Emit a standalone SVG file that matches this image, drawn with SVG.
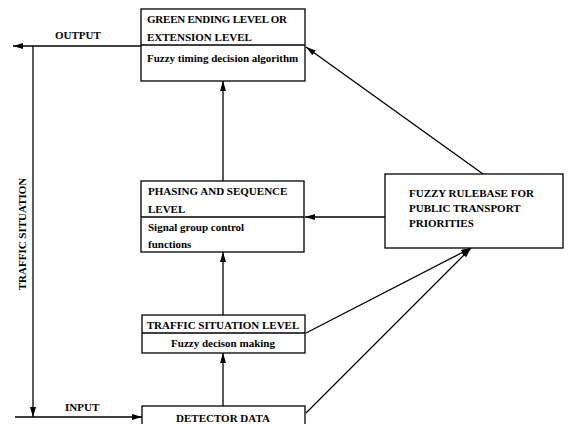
<svg xmlns="http://www.w3.org/2000/svg" width="573" height="424" viewBox="0 0 573 424">
<defs>
<marker id="ah" viewBox="0 0 10 6" refX="10" refY="3" markerWidth="10" markerHeight="6" markerUnits="userSpaceOnUse" orient="auto">
<path d="M0,0 L10,3 L0,6 z" fill="#000"/>
</marker>
</defs>
<style>
.b{fill:#fff;stroke:#000;stroke-width:1.3}
.l{stroke:#000;stroke-width:1.3;fill:none}
.t{font-family:"Liberation Serif",serif;font-weight:bold;font-size:11px;fill:#000}
.c{text-anchor:middle}
</style>
<rect width="573" height="424" fill="#fff"/>
<g id="connectors">
<line class="l" x1="141" y1="46" x2="13" y2="46" marker-end="url(#ah)"/>
<line class="l" x1="33" y1="46" x2="33" y2="417" marker-end="url(#ah)"/>
<line class="l" x1="15" y1="417" x2="142" y2="417" marker-end="url(#ah)"/>
<line class="l" x1="223" y1="181" x2="223" y2="81" marker-end="url(#ah)"/>
<line class="l" x1="223" y1="315" x2="223" y2="252" marker-end="url(#ah)"/>
<line class="l" x1="223" y1="406" x2="223" y2="353" marker-end="url(#ah)"/>
<line class="l" x1="386" y1="217" x2="305" y2="217" marker-end="url(#ah)"/>
<line class="l" x1="483" y1="174" x2="306" y2="47" marker-end="url(#ah)"/>
<line class="l" x1="306" y1="333" x2="471" y2="248" marker-end="url(#ah)"/>
<line class="l" x1="306" y1="413" x2="471" y2="248" marker-end="url(#ah)"/>
<text class="t" x="55" y="39">OUTPUT</text>
<text class="t" x="65" y="411">INPUT</text>
<text class="t c" transform="translate(26,234) rotate(-90)">TRAFFIC SITUATION</text>
</g>
<g id="green">
<rect class="b" x="141" y="9" width="164" height="72"/>
<line class="l" x1="141" y1="45" x2="305" y2="45"/>
<text class="t" x="147" y="23" textLength="140">GREEN ENDING LEVEL OR</text>
<text class="t" x="147" y="41">EXTENSION LEVEL</text>
<text class="t" x="147" y="62">Fuzzy timing decision algorithm</text>
</g>
<g id="phasing">
<rect class="b" x="141" y="181" width="163" height="71"/>
<line class="l" x1="141" y1="217" x2="304" y2="217"/>
<text class="t" x="148" y="195">PHASING AND SEQUENCE</text>
<text class="t" x="148" y="213">LEVEL</text>
<text class="t" x="148" y="231">Signal group control</text>
<text class="t" x="148" y="248">functions</text>
</g>
<g id="traffic">
<rect class="b" x="142" y="315" width="163" height="38"/>
<line class="l" x1="142" y1="333" x2="305" y2="333"/>
<text class="t c" x="223" y="329">TRAFFIC SITUATION LEVEL</text>
<text class="t c" x="223" y="347">Fuzzy decison making</text>
</g>
<g id="detector">
<rect class="b" x="142" y="406" width="163" height="24"/>
<text class="t c" x="223" y="422">DETECTOR DATA</text>
</g>
<g id="rulebase">
<rect class="b" x="385" y="174" width="178" height="74"/>
<text class="t" x="409" y="197">FUZZY RULEBASE FOR</text>
<text class="t" x="409" y="212">PUBLIC TRANSPORT</text>
<text class="t" x="409" y="227">PRIORITIES</text>
</g>
</svg>
